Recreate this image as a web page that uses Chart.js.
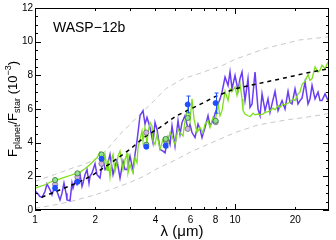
<!DOCTYPE html>
<html><head><meta charset="utf-8">
<script src="https://cdn.jsdelivr.net/npm/chart.js@4/dist/chart.umd.min.js"></script>
<style>html,body{margin:0;padding:0;background:#fff;}canvas{display:block;}</style>
</head><body>
<canvas id="c" width="336" height="240"></canvas>
<script>
// ---- tick labels ----
const xTickLabels = [1, 2, 4, 6, 8, 10, 20];
const xMajorTicks = [1, 10];
const xMinorTicks = [2, 3, 4, 5, 6, 7, 8, 9, 20, 30];
const yTickLabels = [0, 2, 4, 6, 8, 10, 12];

// ---- purple spectrum ----
const lamPurple = [
 1.0,1.035,1.059,1.084,1.122,1.148,1.189,1.216,1.259,1.288,
 1.334,1.365,1.396,1.429,1.445,1.496,1.531,1.549,1.585,1.622,
 1.679,1.718,1.738,1.778,1.820,1.862,1.884,1.928,1.995,2.042,
 2.113,2.188,2.239,2.291,2.371,2.455,2.512,2.570,2.661,2.754,
 2.818,2.884,2.985,3.090,3.162,3.236,3.350,3.467,3.548,3.631,
 3.758,3.890,3.981,4.074,4.217,4.365,4.467,4.624,4.732,4.842,
 5.012,5.188,5.309,5.433,5.623,5.821,5.957,6.095,6.310,6.531,
 6.683,6.839,7.079,7.328,7.499,7.674,7.943,8.222,8.414,8.610,
 8.913,9.226,9.441,9.661,10.0,10.35,10.59,10.84,11.22,11.61,
 11.89,12.16,12.59,13.03,13.34,13.65,14.13,14.62,14.96,15.31,
 15.85,16.41,16.79,17.18,17.78,18.41,18.84,19.28,19.95,20.65,
 21.13,21.63,22.39,23.17,23.71,24.27,25.12,26.0,26.6,27.2,
 28.2,29.2];
const fPurple = [
 1.15,0.95,0.8,0.75,1.1,1.55,1.2,0.9,1.45,1.1,
 0.6,1.0,1.6,1.0,0.6,0.55,1.6,1.3,1.7,1.5,
 2.1,1.4,1.6,2.1,2.4,1.6,2.0,2.2,2.75,2.1,
 1.9,3.05,2.4,2.55,3.3,2.1,2.6,2.95,1.9,2.9,
 2.4,2.4,3.2,2.35,3.3,4.1,5.6,5.9,5.1,5.5,
 4.9,4.0,5.2,4.8,3.6,3.5,3.4,4.3,3.9,5.0,
 3.8,5.3,4.5,5.2,5.6,4.8,5.1,4.6,4.3,5.1,
 4.8,4.3,4.9,5.6,5.0,5.2,5.7,6.3,6.6,7.0,
 7.9,7.4,8.2,7.2,8.0,7.1,7.8,8.2,6.5,7.8,
 6.1,6.3,8.2,6.0,5.6,6.9,5.9,6.6,5.8,6.3,
 7.05,5.9,6.2,6.5,6.0,7.05,6.4,6.3,7.2,6.3,
 6.5,6.65,7.6,6.3,6.6,7.4,6.6,7.0,6.5,6.5,
 6.9,6.5];

// ---- green spectrum ----
const lamGreen = [
 1.0,1.059,1.122,1.189,1.259,1.334,1.413,1.496,1.585,1.622,
 1.641,1.679,1.778,1.884,1.995,2.042,2.113,2.163,2.213,2.239,
 2.291,2.317,2.371,2.427,2.455,2.512,2.570,2.600,2.661,2.723,
 2.754,2.818,2.884,2.917,2.985,3.055,3.090,3.162,3.236,3.273,
 3.350,3.428,3.467,3.548,3.631,3.673,3.758,3.846,3.890,3.981,
 4.074,4.217,4.365,4.467,4.571,4.624,4.732,4.842,5.012,5.188,
 5.309,5.495,5.623,5.754,5.821,5.957,6.095,6.237,6.457,6.683,
 6.918,7.079,7.328,7.499,7.762,7.943,8.222,8.414,8.610,8.913,
 9.226,9.441,9.661,10.0,10.23,10.59,10.84,10.96,11.22,11.61,
 11.89,12.30,12.59,13.03,13.34,13.80,14.13,14.62,14.96,15.49,
 15.85,16.41,16.79,17.38,17.78,18.41,18.84,19.50,19.95,20.65,
 21.13,21.63,22.39,23.17,23.71,24.27,25.12,26.0,26.6,27.2,
 28.2,29.2];
const fGreen = [
 1.3,1.4,1.5,1.65,1.76,1.85,1.95,2.05,2.15,2.2,
 1.85,2.25,2.45,2.7,3.0,3.1,3.45,3.3,2.9,3.3,
 2.35,3.0,1.95,3.1,3.3,2.3,2.8,3.2,3.5,2.76,
 2.4,3.0,3.35,2.2,2.7,2.35,2.2,3.1,2.8,3.7,
 4.2,4.7,4.1,4.9,3.9,4.6,5.2,5.0,4.1,3.9,
 4.5,3.6,4.2,3.7,3.7,4.1,4.6,4.4,3.9,4.8,
 4.6,4.4,5.3,5.9,6.1,5.3,6.6,5.4,4.6,4.9,
 4.6,5.1,5.3,4.9,5.5,5.2,6.3,5.6,5.9,7.05,
 6.5,7.2,7.05,7.3,6.8,7.5,6.6,5.9,5.7,5.6,
 5.55,5.75,5.65,5.7,5.65,5.7,5.8,5.85,5.9,6.05,
 5.95,6.2,6.1,6.3,6.25,6.35,6.4,6.6,6.5,6.9,
 7.0,7.45,7.65,8.05,7.7,7.8,8.5,8.2,8.3,8.6,
 8.4,8.8];

// ---- model (black dashed) ----
const lamModel = [1.08, 1.35, 1.65, 1.93, 2.37, 2.98, 3.5, 4.2, 5.1, 6.5, 8, 10, 13, 17, 22, 29.5];
const fModel   = [0.76, 1.22, 1.65, 2.05, 2.75, 3.6, 4.3, 4.9, 5.6, 6.2, 6.75, 7.2, 7.5, 7.8, 8.1, 8.4];

// ---- envelope (grey dashed) ----
const lamUpper = [1, 1.25, 1.5, 1.75, 2, 2.3, 2.66, 3, 3.35, 3.8, 4.5, 5.5, 6.6, 8.7, 10, 14.2, 21, 30];
const fUpper   = [1.7, 2.1, 2.45, 2.7, 3.0, 3.6, 4.5, 5.1, 5.7, 6.3, 7.2, 7.8, 8.1, 8.6, 8.95, 9.6, 10.1, 10.3];
const lamLower = [1, 1.25, 1.5, 2, 2.5, 3, 3.5, 4, 4.5, 5, 6, 8, 10, 13, 18, 24, 30];
const fLower   = [0.1, 0.3, 0.5, 0.9, 1.3, 1.65, 2.0, 2.4, 2.7, 2.95, 3.45, 4.1, 4.6, 5.05, 5.35, 5.55, 5.75];

// ---- photometry ----
const bandLam  = [1.26, 1.63, 2.15, 3.6, 4.5, 5.8, 8.0];
const blueF    = [1.3, 1.68, 3.04, 3.76, 3.82, 6.27, 6.35];
const blueErr  = [0.15, 0.12, 0.1, 0.1, 0.12, 0.5, 0.6];
const greenPtF = [1.78, 2.18, 3.3, 3.88, 4.22, 5.47, 5.3];
const lavPtF   = [1.52, 1.96, 2.75, 4.6, 4.15, 4.82, 5.22];

const FONT = '"Liberation Sans", Arial, Helvetica, sans-serif';
const zip = (xs, ys) => xs.map((x, i) => ({x: x, y: ys[i]}));

const frame = {
  id: 'frame',
  afterDatasetsDraw(chart) {
    const ctx = chart.ctx, xs = chart.scales.x, ys = chart.scales.y;
    ctx.save();
    ctx.strokeStyle = '#1f4fff'; ctx.lineWidth = 1;
    bandLam.forEach((l, i) => {
      const px = Math.round(xs.getPixelForValue(l)) + 0.5;
      const y1 = ys.getPixelForValue(blueF[i] + blueErr[i]);
      const y2 = ys.getPixelForValue(blueF[i] - blueErr[i]);
      ctx.beginPath();
      ctx.moveTo(px, y1); ctx.lineTo(px, y2);
      ctx.moveTo(px - 2, y1); ctx.lineTo(px + 2, y1);
      ctx.moveTo(px - 2, y2); ctx.lineTo(px + 2, y2);
      ctx.stroke();
    });
    ctx.restore();
  },
  afterDraw(chart) {
    const ctx = chart.ctx, a = chart.chartArea, xs = chart.scales.x, ys = chart.scales.y;
    ctx.save();
    ctx.strokeStyle = '#000'; ctx.lineWidth = 1;
    ctx.strokeRect(Math.round(a.left) + 0.5, Math.round(a.top) + 0.5,
                   Math.round(a.right - a.left) - 1, Math.round(a.bottom - a.top) - 1);
    ctx.beginPath();
    const xt = (v, len) => {
      if (v < xs.min || v > xs.max) return;
      const p = Math.round(xs.getPixelForValue(v)) + 0.5;
      ctx.moveTo(p, a.bottom); ctx.lineTo(p, a.bottom - len);
      ctx.moveTo(p, a.top); ctx.lineTo(p, a.top + len);
    };
    xMajorTicks.forEach(v => xt(v, 6));
    xMinorTicks.forEach(v => xt(v, 3));
    for (let v = 0; v <= 12.001; v += 0.5) {
      const p = Math.round(ys.getPixelForValue(v)) + 0.5;
      const len = (Math.abs(v % 2) < 0.01) ? 6 : 3;
      ctx.moveTo(a.left, p); ctx.lineTo(a.left + len, p);
      ctx.moveTo(a.right, p); ctx.lineTo(a.right - len, p);
    }
    ctx.stroke();

    ctx.fillStyle = '#000';
    ctx.textBaseline = 'alphabetic';
    ctx.font = '14px ' + FONT;
    ctx.textAlign = 'left';
    ctx.fillText('WASP\u221212b', 53, 32);

    ctx.textAlign = 'center';
    ctx.font = '15px ' + FONT;
    ctx.fillText('\u03bb (\u03bcm)', (a.left + a.right) / 2, 236);

    // y title with sub/superscripts
    const parts = [
      {t: 'F', s: 13, dy: 0},
      {t: 'planet', s: 9, dy: 3},
      {t: '/F', s: 13, dy: 0},
      {t: 'star', s: 9, dy: 3},
      {t: ' (10', s: 13, dy: 0},
      {t: '\u22123', s: 9, dy: -6},
      {t: ')', s: 13, dy: 0}
    ];
    let total = 0;
    parts.forEach(p => { ctx.font = p.s + 'px ' + FONT; p.w = ctx.measureText(p.t).width; total += p.w; });
    ctx.translate(17, (a.top + a.bottom) / 2);
    ctx.rotate(-Math.PI / 2);
    ctx.textAlign = 'left';
    let x = -total / 2;
    parts.forEach(p => { ctx.font = p.s + 'px ' + FONT; ctx.fillText(p.t, x, p.dy); x += p.w; });
    ctx.restore();
  }
};

new Chart(document.getElementById('c'), {
  type: 'scatter',
  data: {
    datasets: [
      {data: zip(bandLam, blueF), pointRadius: 2.5, backgroundColor: '#1f4fff', borderColor: '#1f4fff', borderWidth: 1, order: 0},
      {data: zip(bandLam, greenPtF), pointRadius: 2.6, backgroundColor: '#8fe08f', borderColor: '#3c6e3c', borderWidth: 0.8, order: 1},
      {data: zip(bandLam, lavPtF), pointRadius: 2.6, backgroundColor: '#d2b4e2', borderColor: '#707080', borderWidth: 0.8, order: 2},
      {data: zip(lamModel, fModel), showLine: true, pointRadius: 0, borderColor: '#000', borderWidth: 1.5, borderDash: [4, 4], order: 3},
      {data: zip(lamGreen, fGreen), showLine: true, pointRadius: 0, borderColor: '#7ee01c', borderWidth: 1.3, order: 4},
      {data: zip(lamPurple, fPurple), showLine: true, pointRadius: 0, borderColor: '#6a3df2', borderWidth: 1.5, order: 5},
      {data: zip(lamUpper, fUpper), showLine: true, pointRadius: 0, borderColor: '#c8c8c8', borderWidth: 1, borderDash: [5, 4], order: 6},
      {data: zip(lamLower, fLower), showLine: true, pointRadius: 0, borderColor: '#c8c8c8', borderWidth: 1, borderDash: [5, 4], order: 7}
    ]
  },
  options: {
    responsive: false,
    animation: false,
    devicePixelRatio: 1,
    layout: {padding: {left: 0, right: 7, top: 6, bottom: 0}},
    plugins: {legend: {display: false}, tooltip: {enabled: false}},
    scales: {
      x: {
        type: 'logarithmic', min: 1, max: 29.5,
        grid: {display: false, drawTicks: false}, border: {display: false},
        afterBuildTicks: s => { s.ticks = xTickLabels.map(v => ({value: v})); },
        afterFit: s => { s.height = 30; },
        ticks: {autoSkip: false, maxRotation: 0, padding: 4, color: '#000',
                font: {family: FONT, size: 10}, callback: v => String(v)}
      },
      y: {
        type: 'linear', min: 0, max: 12,
        grid: {display: false, drawTicks: false}, border: {display: false},
        afterBuildTicks: s => { s.ticks = yTickLabels.map(v => ({value: v})); },
        afterFit: s => { s.width = 35; },
        ticks: {autoSkip: false, padding: 2, color: '#000',
                font: {family: FONT, size: 10}, callback: v => String(v)}
      }
    }
  },
  plugins: [frame]
});
</script>
</body></html>
